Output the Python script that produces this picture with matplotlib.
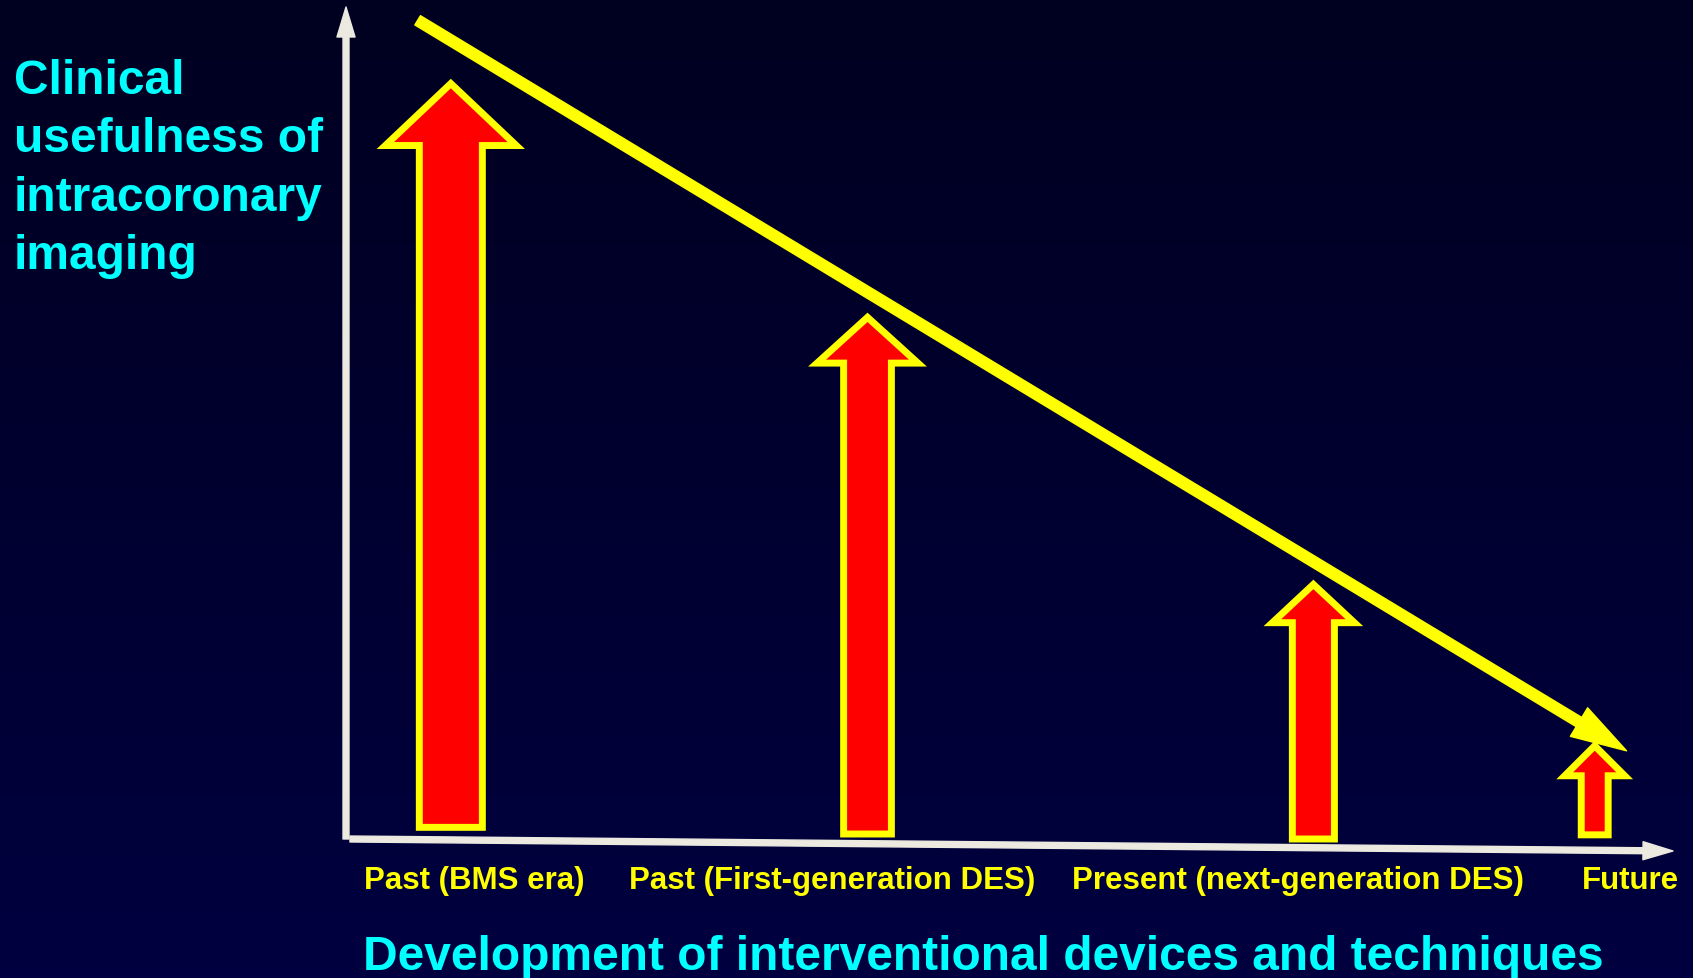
import numpy as np
import matplotlib.pyplot as plt
from matplotlib.patches import FancyArrow, FancyArrowPatch

W, H = 1693, 979

# eras along the horizontal axis
eras = ['Past (BMS era)', 'Past (First-generation DES)',
        'Present (next-generation DES)', 'Future']
label_x = [9.7, 36.6, 71.7, 96.8]

# usefulness of intracoronary imaging in each era (axis units 0-100)
arrow_x = [7.9, 39.3, 72.9, 94.1]
usefulness = [90.8, 62.7, 30.6, 11.2]
arrow_base = [1.4, 0.6, 0.0, 0.5]

# overall downward trend
trend_x = [5.4, 96.5]
trend_y = [98.4, 10.6]

# arrow shapes (x units / y units)
shaft_w = [4.75, 3.6, 3.17, 2.03]
head_w = [9.87, 7.6, 6.18, 4.52]
head_len = [7.45, 5.5, 4.6, 3.6]

YELLOW = '#ffff00'
CYAN = '#00ffff'
AXIS_C = '#ece9e0'

plt.rcParams['font.family'] = ['Liberation Sans', 'DejaVu Sans']

fig = plt.figure(figsize=(W / 100, H / 100), dpi=100)

# dark blue background, a bit darker at the top
bg = fig.add_axes([0, 0, 1, 1], zorder=-1)
grad = np.linspace(0, 1, 256).reshape(-1, 1)
top = np.array([0, 0, 0x20]) / 255
bot = np.array([0, 0, 0x40]) / 255
img = top + (bot - top) * grad[:, :, None]
bg.imshow(img, aspect='auto', extent=[0, 1, 0, 1], origin='upper')
bg.set_axis_off()

x0, y0, x1, y1 = 346, 840, 1673, 8
ax = fig.add_axes([x0 / W, (H - y0) / H, (x1 - x0) / W, (y0 - y1) / H])
ax.set_xlim(0, 100)
ax.set_ylim(0, 100)
ax.set_axis_off()
ax.patch.set_alpha(0)

# axes drawn as arrows
ax.add_patch(FancyArrowPatch((0, 0), (0, 100), arrowstyle='simple,head_length=21.6,head_width=13,tail_width=4.3',
                             mutation_scale=1, color=AXIS_C, shrinkA=0, shrinkB=0, clip_on=False))
ax.add_patch(FancyArrowPatch((0.3, 0), (100, -1.44), arrowstyle='simple,head_length=21.6,head_width=13,tail_width=4.3',
                             mutation_scale=1, color=AXIS_C, shrinkA=0, shrinkB=0, clip_on=False))

for x, v, b, sw, hw, hl in zip(arrow_x, usefulness, arrow_base, shaft_w, head_w, head_len):
    ax.add_patch(FancyArrow(x, b, 0, v - b, width=sw, head_width=hw, head_length=hl,
                            length_includes_head=True, facecolor='#ff0000', edgecolor=YELLOW,
                            linewidth=5, joinstyle='miter', clip_on=False, zorder=3))

ax.add_patch(FancyArrowPatch((trend_x[0], trend_y[0]), (trend_x[1], trend_y[1]),
                             arrowstyle='simple,head_length=40,head_width=24,tail_width=7.8',
                             mutation_scale=1, color=YELLOW, shrinkA=0, shrinkB=0,
                             clip_on=False, zorder=4))

for lx, name in zip(label_x, eras):
    ax.text(lx, -5.9, name, ha='center', va='baseline', color=YELLOW,
            fontsize=22.5, fontweight='bold')

fig.text(14 / W, 1 - 59 / H, 'Clinical\nusefulness of\nintracoronary\nimaging',
         ha='left', va='top', color=CYAN, fontsize=34.5, fontweight='bold', linespacing=1.385)
fig.text(363 / W, 1 - 970 / H, 'Development of interventional devices and techniques',
         ha='left', va='baseline', color=CYAN, fontsize=34.5, fontweight='bold')

fig.savefig('out.png', dpi=100)
